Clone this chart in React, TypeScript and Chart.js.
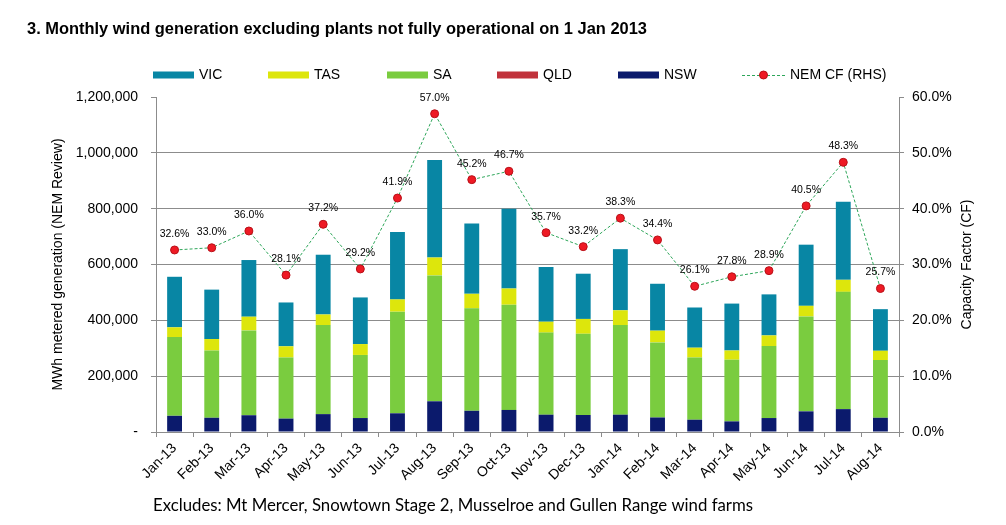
import React, { useEffect, useRef } from "react";
import { Chart, registerables } from "chart.js";
Chart.register(...registerables);

const categories = [
  "Jan-13", "Feb-13", "Mar-13", "Apr-13", "May-13", "Jun-13", "Jul-13", "Aug-13", "Sep-13", "Oct-13",
  "Nov-13", "Dec-13", "Jan-14", "Feb-14", "Mar-14", "Apr-14", "May-14", "Jun-14", "Jul-14", "Aug-14",
];
const nswValues = [58000, 51000, 60000, 48000, 64000, 50000, 67000, 110000, 76000, 79000, 62000, 61000, 62000, 52000, 44000, 38000, 50000, 74000, 82000, 51000];
const qldValues = [0, 0, 0, 0, 0, 0, 0, 0, 0, 0, 0, 0, 0, 0, 0, 0, 0, 0, 0, 0];
const saValues = [282000, 241000, 304000, 219000, 319000, 226000, 364000, 451000, 367000, 377000, 294000, 291000, 321000, 269000, 223000, 221000, 258000, 340000, 420000, 207000];
const tasValues = [35000, 41000, 49000, 40000, 38000, 39000, 44000, 64000, 52000, 58000, 39000, 53000, 53000, 42000, 35000, 33000, 38000, 38000, 43000, 33000];
const vicValues = [181000, 177000, 203000, 157000, 214000, 167000, 241000, 349000, 252000, 286000, 196000, 162000, 219000, 168000, 144000, 168000, 147000, 219000, 280000, 149000];
const nemCF = [32.6, 33.0, 36.0, 28.1, 37.2, 29.2, 41.9, 57.0, 45.2, 46.7, 35.7, 33.2, 38.3, 34.4, 26.1, 27.8, 28.9, 40.5, 48.3, 25.7];

const leftTickValues = [0, 200000, 400000, 600000, 800000, 1000000, 1200000];
const rightTickValues = [0, 10, 20, 30, 40, 50, 60];

const TITLE = "3. Monthly wind generation excluding plants not fully operational on 1 Jan 2013";
const FOOTNOTE = "Excludes: Mt Mercer, Snowtown Stage 2, Musselroe and Gullen Range wind farms";
const LEFT_TITLE = "MWh metered generation (NEM Review)";
const RIGHT_TITLE = "Capacity Factor (CF)";

const COLORS = {
  VIC: "#0886a4",
  TAS: "#dde60c",
  SA: "#7acc3f",
  QLD: "#c1323b",
  NSW: "#0b1a6c",
  line: "#2ea65a",
  dot: "#ee1a24",
  dotBorder: "#b81018",
  grid: "#8c8c8c",
};

const FONT = "'Liberation Sans', Arial, sans-serif";

const decorPlugin = {
  id: "decor",
  afterDatasetsDraw(chart: any) {
    const ctx = chart.ctx;
    const meta = chart.getDatasetMeta(chart.data.datasets.length - 1);
    ctx.save();
    ctx.font = `10.5px ${FONT}`;
    ctx.fillStyle = "#000";
    ctx.textAlign = "center";
    ctx.textBaseline = "middle";
    meta.data.forEach((pt: any, i: number) => {
      ctx.fillText(nemCF[i].toFixed(1) + "%", pt.x, pt.y - 16);
    });
    ctx.restore();
  },
  afterDraw(chart: any) {
    const ctx = chart.ctx;
    const area = chart.chartArea;
    ctx.save();
    // title
    ctx.fillStyle = "#000";
    ctx.font = `bold 17px ${FONT}`;
    ctx.textAlign = "left";
    ctx.textBaseline = "middle";
    ctx.fillText(TITLE, 27, 29, 620);

    // legend
    const items = [
      { label: "VIC", color: COLORS.VIC, x: 153 },
      { label: "TAS", color: COLORS.TAS, x: 268 },
      { label: "SA", color: COLORS.SA, x: 387 },
      { label: "QLD", color: COLORS.QLD, x: 497 },
      { label: "NSW", color: COLORS.NSW, x: 618 },
    ];
    const ly = 75;
    ctx.font = `14px ${FONT}`;
    items.forEach((it) => {
      ctx.fillStyle = it.color;
      ctx.fillRect(it.x, ly - 3.5, 41, 7);
      ctx.fillStyle = "#000";
      ctx.fillText(it.label, it.x + 46, ly);
    });
    // line legend
    ctx.strokeStyle = COLORS.line;
    ctx.lineWidth = 1;
    ctx.setLineDash([3, 2]);
    ctx.beginPath();
    ctx.moveTo(742, ly + 0.5);
    ctx.lineTo(785, ly + 0.5);
    ctx.stroke();
    ctx.setLineDash([]);
    ctx.beginPath();
    ctx.arc(763.5, ly, 4, 0, Math.PI * 2);
    ctx.fillStyle = COLORS.dot;
    ctx.fill();
    ctx.strokeStyle = COLORS.dotBorder;
    ctx.stroke();
    ctx.fillStyle = "#000";
    ctx.fillText("NEM CF (RHS)", 790, ly);

    // axis titles
    const cy = (area.top + area.bottom) / 2;
    ctx.font = `14px ${FONT}`;
    ctx.textAlign = "center";
    ctx.save();
    ctx.translate(58, cy);
    ctx.rotate(-Math.PI / 2);
    ctx.fillText(LEFT_TITLE, 0, 0);
    ctx.restore();
    ctx.save();
    ctx.translate(967, cy);
    ctx.rotate(-Math.PI / 2);
    ctx.fillText(RIGHT_TITLE, 0, 0);
    ctx.restore();

    // footnote
    ctx.textAlign = "left";
    ctx.font = `17px Lato, 'Open Sans', sans-serif`;
    ctx.fillText(FOOTNOTE, 153, 506, 600);
    ctx.restore();
  },
};

export default function App() {
  const ref = useRef<HTMLCanvasElement | null>(null);
  useEffect(() => {
    if (!ref.current) return;
    const barBase = { type: "bar" as const, yAxisID: "y", stack: "s", order: 1, barPercentage: 0.4, categoryPercentage: 1.0, borderWidth: 0 };
    const chart = new Chart(ref.current, {
      type: "bar",
      data: {
        labels: categories,
        datasets: [
          { ...barBase, label: "NSW", data: nswValues, backgroundColor: COLORS.NSW },
          { ...barBase, label: "QLD", data: qldValues, backgroundColor: COLORS.QLD },
          { ...barBase, label: "SA", data: saValues, backgroundColor: COLORS.SA },
          { ...barBase, label: "TAS", data: tasValues, backgroundColor: COLORS.TAS },
          { ...barBase, label: "VIC", data: vicValues, backgroundColor: COLORS.VIC },
          {
            type: "line",
            label: "NEM CF (RHS)",
            data: nemCF,
            yAxisID: "y1",
            order: 0,
            borderColor: COLORS.line,
            borderWidth: 1,
            borderDash: [3, 2],
            tension: 0,
            pointRadius: 4,
            pointBackgroundColor: COLORS.dot,
            pointBorderColor: COLORS.dotBorder,
            pointBorderWidth: 1,
          } as any,
        ],
      },
      options: {
        responsive: false,
        devicePixelRatio: 1,
        animation: false,
        layout: { padding: { top: 97, left: 0, right: 0, bottom: 0 } },
        plugins: { legend: { display: false }, tooltip: { enabled: false }, title: { display: false } },
        scales: {
          x: {
            stacked: true,
            grid: { offset: true, drawOnChartArea: false, drawTicks: true, tickLength: 5, color: COLORS.grid },
            border: { color: COLORS.grid },
            ticks: { minRotation: 45, maxRotation: 45, autoSkip: false, padding: 3, color: "#000", font: { family: FONT, size: 14 } },
            afterFit: (s: any) => { s.height = 93; },
          },
          y: {
            type: "linear",
            position: "left",
            stacked: true,
            min: 0,
            max: 1200000,
            afterBuildTicks: (s: any) => { s.ticks = leftTickValues.map((v) => ({ value: v })); },
            ticks: {
              padding: 13,
              color: "#000",
              font: { family: FONT, size: 14 },
              callback: (v: any) => (Number(v) === 0 ? "-" : Number(v).toLocaleString("en-US")),
            },
            grid: {
              color: (c: any) => (c.tick && c.tick.value === 1200000 ? "rgba(0,0,0,0)" : COLORS.grid),
              tickColor: COLORS.grid,
              tickLength: 5,
              lineWidth: 1,
            },
            border: { color: COLORS.grid },
            afterFit: (s: any) => { s.width = 156; },
          },
          y1: {
            type: "linear",
            position: "right",
            min: 0,
            max: 60,
            afterBuildTicks: (s: any) => { s.ticks = rightTickValues.map((v) => ({ value: v })); },
            ticks: {
              padding: 8,
              color: "#000",
              font: { family: FONT, size: 14 },
              callback: (v: any) => Number(v).toFixed(1) + "%",
            },
            grid: { drawOnChartArea: false, tickLength: 5, color: COLORS.grid },
            border: { color: COLORS.grid },
            afterFit: (s: any) => { s.width = 107; },
          },
        },
      } as any,
      plugins: [decorPlugin],
    });
    return () => chart.destroy();
  }, []);
  return (
    <div style={{ position: "absolute", left: 0, top: 0, width: 1006, height: 525, background: "#fff" }}>
      <canvas ref={ref} width={1006} height={525} style={{ display: "block" }} />
    </div>
  );
}
